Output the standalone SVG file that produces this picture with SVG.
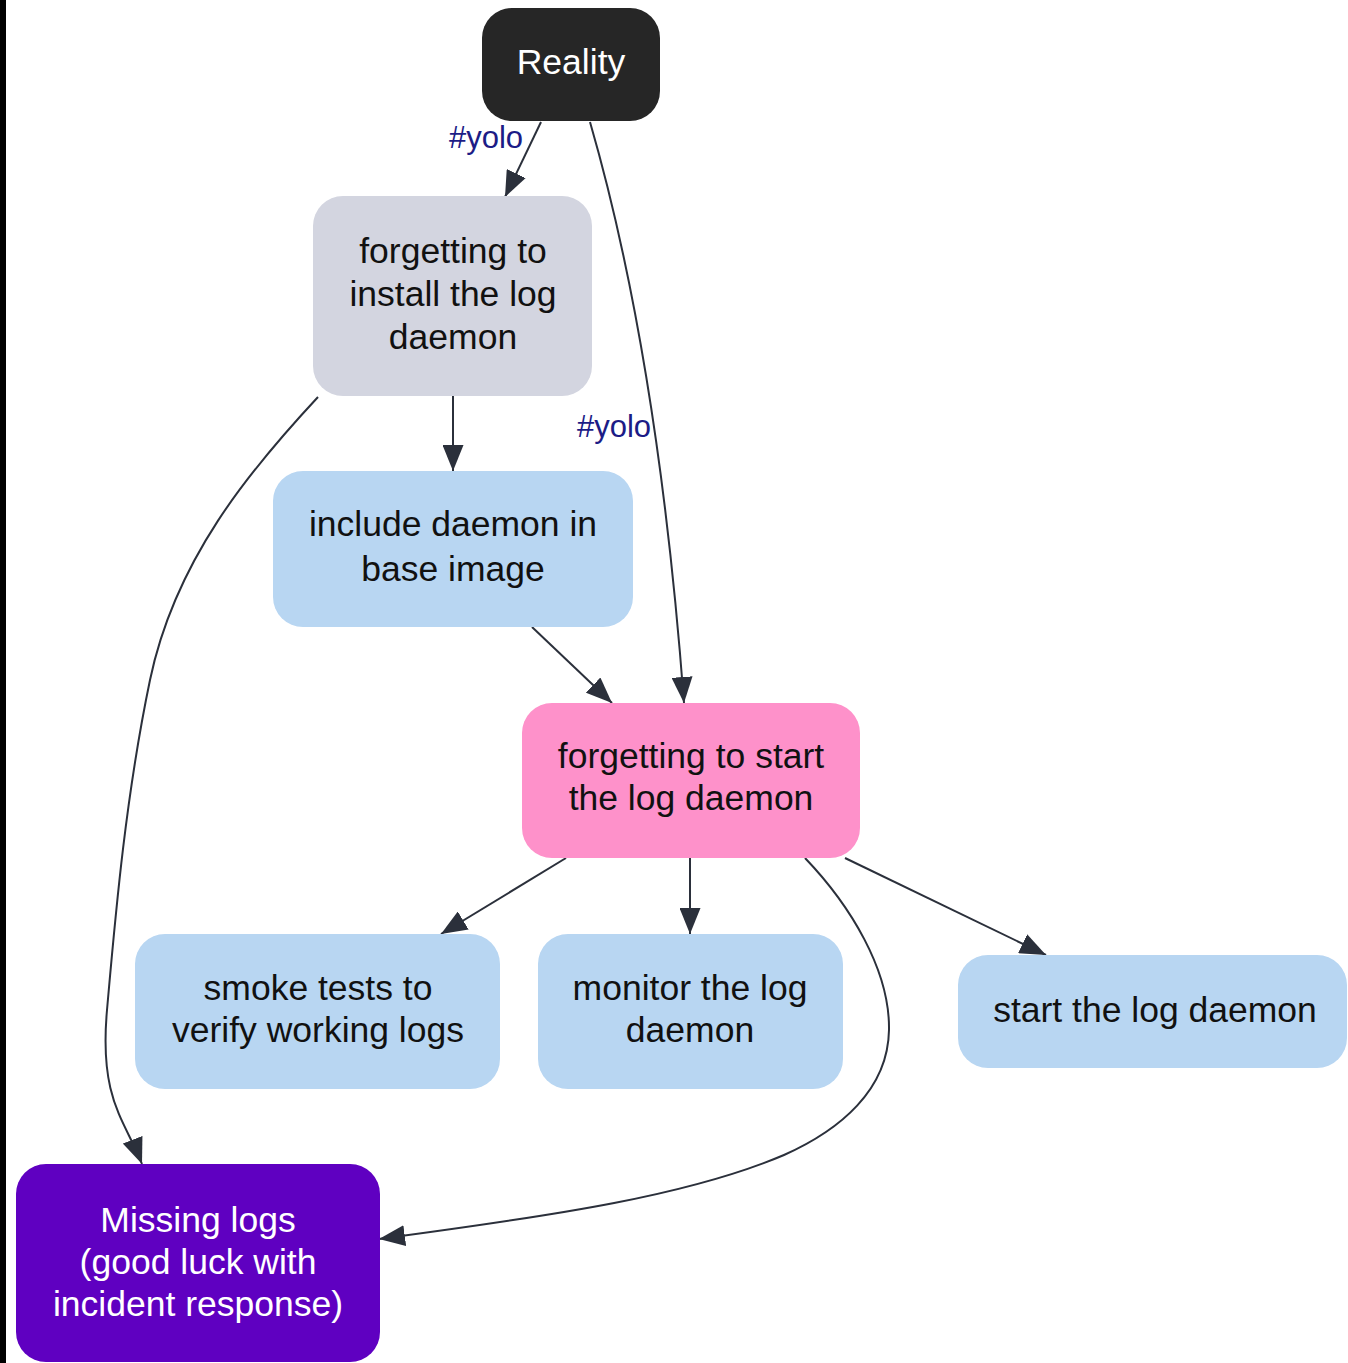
<svg xmlns="http://www.w3.org/2000/svg" width="1348" height="1363" viewBox="0 0 1348 1363">
<defs>
<marker id="ah" viewBox="0 0 26 21" refX="26" refY="10.5" markerWidth="26" markerHeight="21" markerUnits="userSpaceOnUse" orient="auto"><path d="M0,0 L26,10.5 L0,21 z" fill="#2b303b"/></marker>
<style>
.lbl{font-family:"Liberation Sans",Arial,sans-serif;font-size:35.5px;text-anchor:middle;fill:#111}
.wt{fill:#ffffff}
.edge{fill:none;stroke:#2b303b;stroke-width:2;marker-end:url(#ah)}
.elbl{font-family:"Liberation Sans",Arial,sans-serif;font-size:31px;fill:#1c1c86}
</style>
</defs>
<rect x="0" y="0" width="1348" height="1363" fill="#ffffff"/>
<rect x="0" y="0" width="6" height="1363" fill="#000000"/>

<g id="connectors">
<path class="edge" d="M541,122 L505,197"/>
<path class="edge" d="M590,122 C630,260 665,450 684,703"/>
<path class="edge" d="M453,396 L453,471"/>
<path class="edge" d="M318,397 C250,470 175,560 150,680 S115,920 107,1010 S125,1120 142,1164"/>
<path class="edge" d="M532,627 L612,703"/>
<path class="edge" d="M566,858 L441,934"/>
<path class="edge" d="M690,858 L690,934"/>
<path class="edge" d="M805,858 C850,905 890,970 889,1030 C888,1090 840,1130 784,1155 C690,1195 560,1215 379,1239"/>
<path class="edge" d="M845,858 L1046,955"/>
<text class="elbl" x="449" y="148">#yolo</text>
<text class="elbl" x="577" y="437">#yolo</text>
</g>

<g id="reality">
<rect x="482" y="8" width="178" height="113" rx="30" fill="#262626"/>
<text class="lbl wt" x="571" y="74">Reality</text>
</g>

<g id="install">
<rect x="313" y="196" width="279" height="200" rx="30" fill="#d3d5e0"/>
<text class="lbl" x="453" y="263">forgetting to</text>
<text class="lbl" x="453" y="306">install the log</text>
<text class="lbl" x="453" y="349">daemon</text>
</g>

<g id="include">
<rect x="273" y="471" width="360" height="156" rx="30" fill="#b8d6f2"/>
<text class="lbl" x="453" y="536">include daemon in</text>
<text class="lbl" x="453" y="581">base image</text>
</g>

<g id="forgetstart">
<rect x="522" y="703" width="338" height="155" rx="30" fill="#fe91ca"/>
<text class="lbl" x="691" y="768">forgetting to start</text>
<text class="lbl" x="691" y="810">the log daemon</text>
</g>

<g id="smoke">
<rect x="135" y="934" width="365" height="155" rx="30" fill="#b8d6f2"/>
<text class="lbl" x="318" y="1000">smoke tests to</text>
<text class="lbl" x="318" y="1042">verify working logs</text>
</g>

<g id="monitor">
<rect x="538" y="934" width="305" height="155" rx="30" fill="#b8d6f2"/>
<text class="lbl" x="690" y="1000">monitor the log</text>
<text class="lbl" x="690" y="1042">daemon</text>
</g>

<g id="startdaemon">
<rect x="958" y="955" width="389" height="113" rx="30" fill="#b8d6f2"/>
<text class="lbl" x="1155" y="1022">start the log daemon</text>
</g>

<g id="missing">
<rect x="16" y="1164" width="364" height="198" rx="30" fill="#5f00c1"/>
<text class="lbl wt" x="198" y="1232">Missing logs</text>
<text class="lbl wt" x="198" y="1274">(good luck with</text>
<text class="lbl wt" x="198" y="1316">incident response)</text>
</g>
</svg>
